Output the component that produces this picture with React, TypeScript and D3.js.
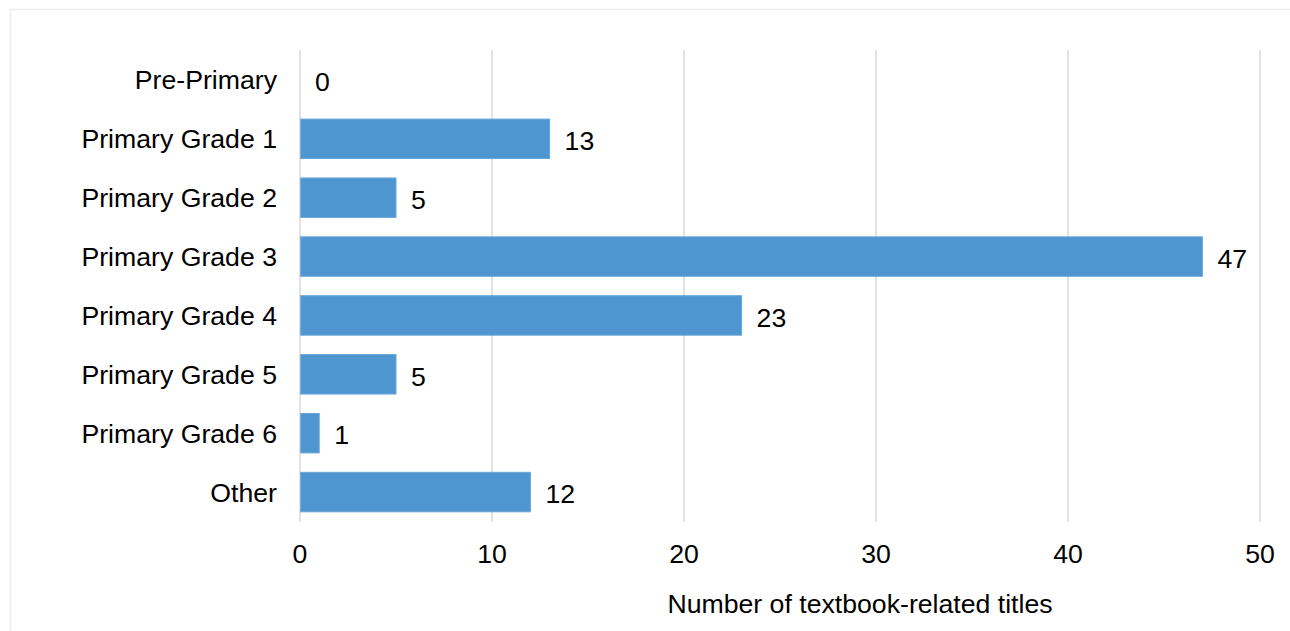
import React from "react";
import * as d3 from "d3";

const categories = [
  "Pre-Primary",
  "Primary Grade 1",
  "Primary Grade 2",
  "Primary Grade 3",
  "Primary Grade 4",
  "Primary Grade 5",
  "Primary Grade 6",
  "Other",
];
const values = [0, 13, 5, 47, 23, 5, 1, 12];
const xTicks = [0, 10, 20, 30, 40, 50];
const xAxisTitle = "Number of textbook-related titles";

const W = 1290;
const H = 631;
const FONT = "'Liberation Sans', Arial, Helvetica, sans-serif";
const FS = 26.67;

export default function App() {
  const x = d3.scaleLinear().domain([0, 50]).range([300, 1260]);
  const y = d3
    .scaleBand<string>()
    .domain(categories)
    .range([50.5, 521.5])
    .paddingInner(0.33)
    .paddingOuter(0.165);
  const bw = y.bandwidth();

  return (
    <svg
      width={W}
      height={H}
      style={{ position: "absolute", left: 0, top: 0, background: "#fff" }}
      fontFamily={FONT}
    >
      <rect x={0} y={0} width={W} height={H} fill="#fff" />
      <rect
        x={10.5}
        y={9.5}
        width={W + 10}
        height={H + 10}
        fill="none"
        stroke="#ececec"
        strokeWidth={1.5}
      />
      {xTicks.map((t) => (
        <line
          key={"g" + t}
          x1={x(t)}
          x2={x(t)}
          y1={50}
          y2={522}
          stroke="#d9d9d9"
          strokeWidth={1.5}
        />
      ))}
      {categories.map((c, i) => {
        const y0 = y(c)!;
        const cy = y0 + bw / 2;
        const v = values[i];
        return (
          <g key={c}>
            {v > 0 && (
              <rect
                x={x(0) + 0.7}
                y={y0}
                width={x(v) - x(0) - 0.7}
                height={bw}
                fill="#4f96d1"
                stroke="#66a6db"
                strokeWidth={1}
              />
            )}
            <text
              x={277}
              y={cy + 9.5}
              textAnchor="end"
              fontSize={FS}
              fill="#000"
            >
              {c}
            </text>
            <text x={x(v) + 15} y={cy + 11.3} fontSize={FS} fill="#000">
              {v}
            </text>
          </g>
        );
      })}
      {xTicks.map((t) => (
        <text
          key={"t" + t}
          x={x(t)}
          y={562.7}
          textAnchor="middle"
          fontSize={FS}
          fill="#000"
        >
          {t}
        </text>
      ))}
      <text x={860} y={613} textAnchor="middle" fontSize={FS} fill="#000">
        {xAxisTitle}
      </text>
    </svg>
  );
}
